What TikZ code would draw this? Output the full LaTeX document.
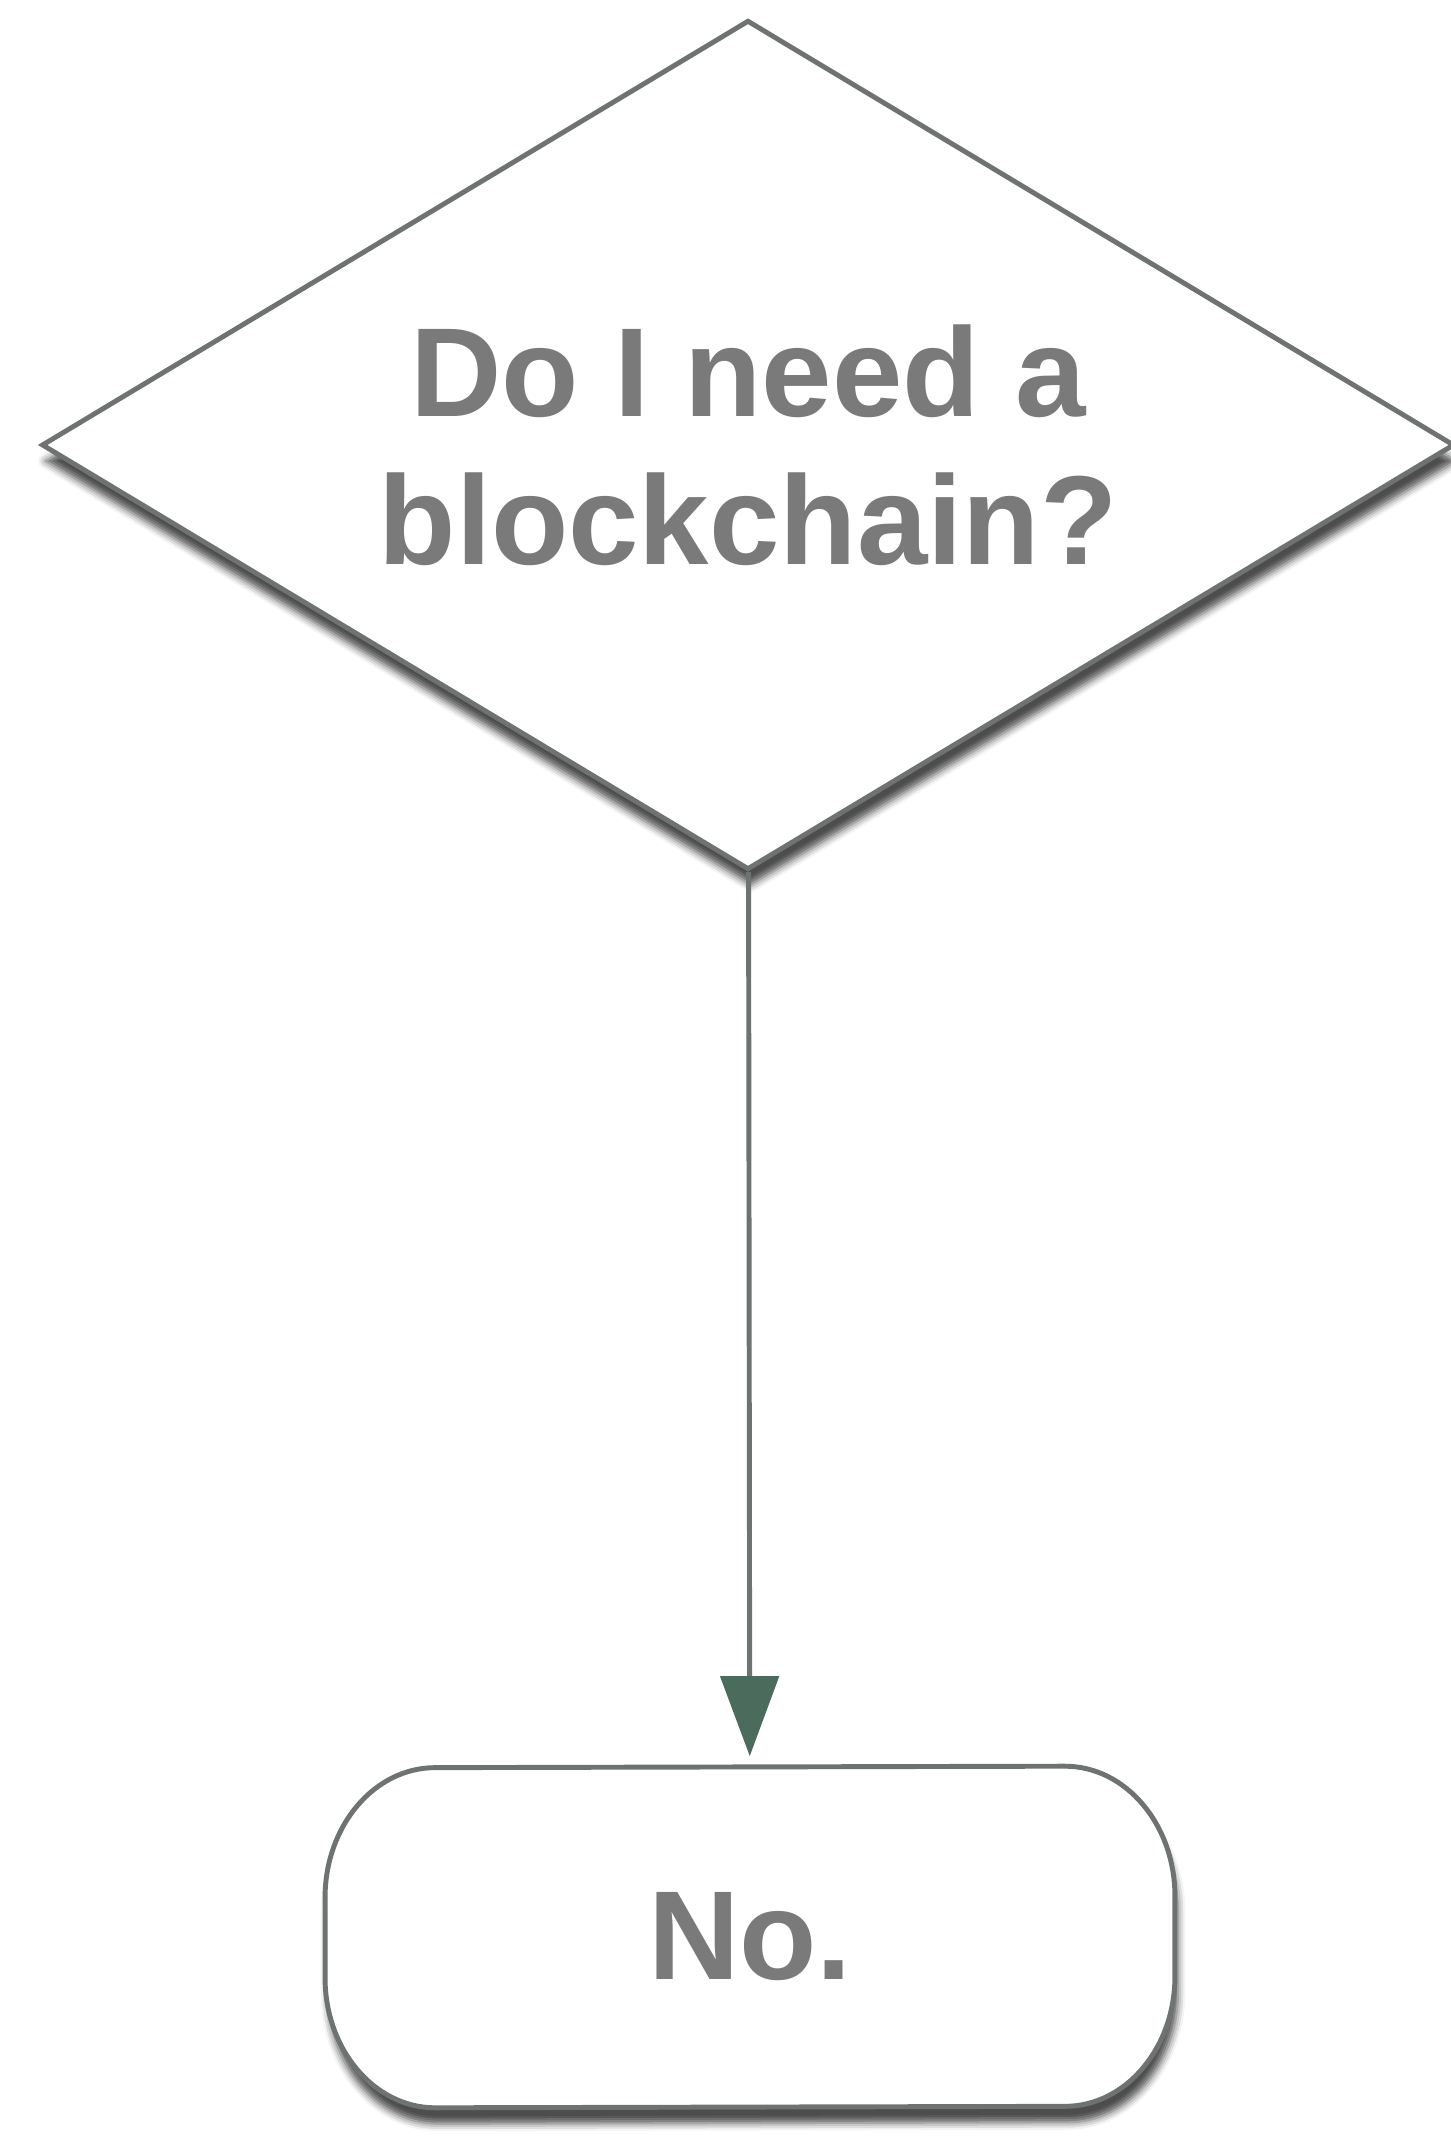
\documentclass[tikz,border=0pt]{standalone}
\usepackage{fontspec}
\setmainfont{Liberation Sans}
\usepackage{tikz}
\usetikzlibrary{arrows.meta, shapes.geometric, shadows.blur}
\pgfdeclarelayer{background}
\pgfsetlayers{background,main}
\definecolor{edgegray}{HTML}{6E7370}
\definecolor{tipgreen}{HTML}{4B6B5C}
\definecolor{textgray}{HTML}{7A7A7A}
\tikzset{font=\fontsize{36}{42}\selectfont\bfseries, text=textgray}
\tikzset{decision/.style={shape=diamond, draw=edgegray, fill=white,
    line width=1.4pt, inner sep=0pt, shape aspect=1.66, minimum width=14.12cm,
    minimum height=8.49cm, align=center,
    blur shadow={shadow xshift=.03cm, shadow yshift=-.16cm, shadow opacity=70}}}
\tikzset{terminal/.style={shape=rectangle, inner sep=0pt, minimum width=6.28cm,
    minimum height=3.4cm}}
\tikzset{terminal line/.style={draw=edgegray, fill=white, line width=1.4pt,
    line join=round,
    blur shadow={shadow xshift=.03cm, shadow yshift=-.16cm, shadow opacity=70}}}
\tikzset{corner/.style={x radius=1.1cm, y radius=1.3cm}}
\tikzset{flow/.style={draw=edgegray, line width=1.4pt, shorten >=.1cm,
    -{Triangle[length=.8cm, width=.58cm, color=tipgreen, fill=tipgreen]}}}

\begin{document}
\begin{tikzpicture}[x=.01cm,y=.01cm]
    \useasboundingbox (0,0) rectangle (1450,2144);
    \node[decision] (need) at (748,1699) {Do I need a\\blockchain?};
    \node[terminal] (no) at (750,207) {No.};
    \begin{pgfonlayer}{background}
      \path[terminal line] (no.north east)
        arc[corner, start angle=90, end angle=0] -- ++(0,-80)
        arc[corner, start angle=0, end angle=-90] -- (no.south west)
        arc[corner, start angle=270, end angle=180] -- ++(0,80)
        arc[corner, start angle=180, end angle=90] -- cycle;
    \end{pgfonlayer}
    \path[flow] (need) edge (no);
  \end{tikzpicture}
\end{document}
